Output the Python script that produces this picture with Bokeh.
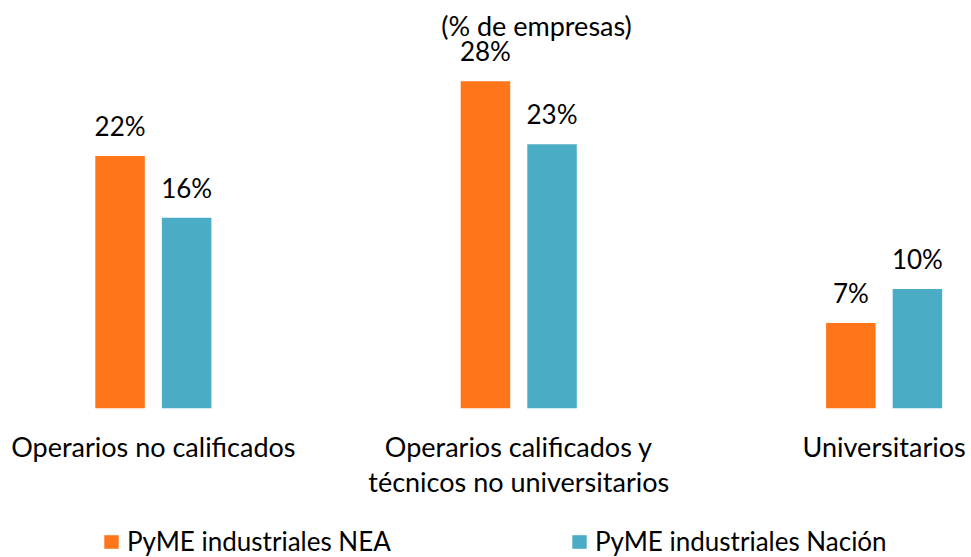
from bokeh.plotting import figure
from bokeh.models import (ColumnDataSource, Range1d, Legend, LegendItem, Label)
from bokeh.transform import dodge
from bokeh.core.properties import value
from bokeh.embed import file_html
from bokeh.resources import INLINE

# ---- data ----
categories = ["Operarios no calificados",
              "Operarios calificados y\ntécnicos no universitarios",
              "Universitarios"]
nea = [21.6, 28.0, 7.3]
nacion = [16.3, 22.6, 10.2]
series_names = ["PyME industriales NEA", "PyME industriales Nación"]
subtitle = "(% de empresas)"

ORANGE = "#FF7519"
TEAL = "#4BACC6"
FONT = "Lato"

xs = list(range(len(categories)))
src = ColumnDataSource(dict(
    x=xs, cat=categories, nea=nea, nacion=nacion,
    nea_lbl=[f"{round(v)}%" for v in nea],
    nacion_lbl=[f"{round(v)}%" for v in nacion],
    zero=[0] * len(xs),
))

p = figure(width=971, height=557, output_backend="svg", toolbar_location=None,
           x_range=Range1d(-0.4183, 2.2391), y_range=Range1d(-12.78, 34.91),
           x_axis_location=None, y_axis_location=None,
           min_border=0, outline_line_color=None)
p.grid.visible = False
p.background_fill_color = "white"
p.border_fill_color = "white"

bw = 0.1355
off = 0.0911
r1 = p.vbar(x=dodge("x", -off, range=p.x_range), top="nea", width=bw, source=src,
            fill_color=ORANGE, line_color=None)
r2 = p.vbar(x=dodge("x", off, range=p.x_range), top="nacion", width=bw, source=src,
            fill_color=TEAL, line_color=None)

common = dict(text_font=value(FONT), text_font_size="26px", text_color="#000000",
              text_align="center", text_baseline="alphabetic")
p.text(x=dodge("x", -off, range=p.x_range), y="nea", text="nea_lbl", source=src,
       y_offset=-30, **common)
p.text(x=dodge("x", off, range=p.x_range), y="nacion", text="nacion_lbl", source=src,
       y_offset=-30, **common)

p.text(x="x", y="zero", text="cat", source=src, y_offset=22,
       text_font=value(FONT), text_font_size="27px", text_color="#000000",
       text_align="center", text_baseline="top", text_line_height=1.065)

p.add_layout(Label(x=536, y=532, x_units="screen", y_units="screen", text=subtitle,
                   text_font=FONT, text_font_size="27px", text_color="#000000",
                   text_align="center", text_baseline="alphabetic"))

legend = Legend(items=[LegendItem(label=series_names[0], renderers=[r1]),
                       LegendItem(label=series_names[1], renderers=[r2])],
                orientation="horizontal", location=(102, 0),
                glyph_width=18, glyph_height=17, label_standoff=7,
                label_width=443, spacing=0, padding=0, margin=0,
                border_line_color=None, background_fill_alpha=0,
                label_text_font=FONT, label_text_font_size="26px",
                label_text_color="#000000")
p.add_layout(legend)

open("out.html", "w").write(file_html(p, INLINE))
